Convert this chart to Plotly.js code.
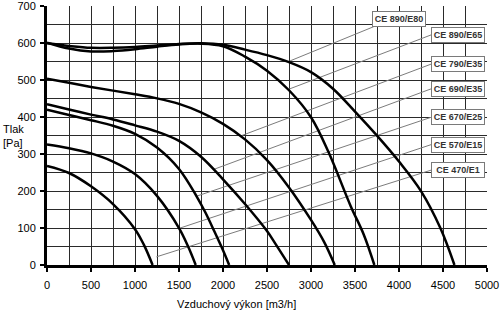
<!DOCTYPE html>
<html>
<head>
<meta charset="utf-8">
<script src="https://cdn.plot.ly/plotly-3.0.1.min.js"></script>
<style>
html,body{margin:0;padding:0;background:#fff;}
#chart{width:500px;height:336px;}
</style>
</head>
<body>
<div id="chart"></div>
<script>
// Fan curves: airflow [m3/h] vs pressure [Pa]
const seriesNames = ["CE 470/E1","CE 570/E15","CE 670/E25","CE 690/E35","CE 790/E35","CE 890/E65","CE 890/E80"];

const flowA = [0,250,500,750,1000,1100,1200];
const presA = [268,249,213,165,97,55,0];

const flowB = [0,250,500,750,1000,1250,1500,1600,1690];
const presB = [326,316,302,280,246,187,100,52,0];

const flowD = [0,250,500,750,1000,1250,1500,1700,1800,1900,2000,2070];
const presD = [420,406,392,377,355,318,260,186,142,92,40,0];

const flowC = [0,250,500,750,1000,1250,1500,1750,2000,2250,2500,2600,2750];
const presC = [435,421,407,394,378,361,336,293,232,165,92,56,0];

const flowE = [0,250,500,750,1000,1250,1500,1750,2000,2250,2500,2750,3000,3150,3270];
const presE = [504,493,482,472,462,451,436,413,382,340,284,210,122,62,0];

const flowF = [0,250,500,750,1000,1250,1500,1750,2000,2250,2500,2750,3000,3200,3450,3600,3720];
const presF = [602,586,578,579,584,591,597,599,592,564,526,473,400,305,160,82,0];

const flowG = [0,250,500,750,1000,1250,1500,1750,2000,2250,2500,2750,3000,3250,3500,3750,4000,4250,4470,4630];
const presG = [600,593,588,588,590,594,598,600,596,583,568,549,522,477,415,350,280,200,100,0];

// Label boxes (left edge / centre) and leader-line start points on the curves
const labelX = [4368,4368,4368,4368,4368,4368,3698];
const labelY = [257,326,400,477,544,623,665];
const leaderStartX = [1243,1500,1697,1886,2209,2750,2758];
const leaderStartY = [22,99,186,258,350,476,552];
const leaderEndX = [4368,4368,4368,4368,4368,4368,3712];
const leaderEndY = [257,326,400,477,544,623,645];

const xTicks = [0,500,1000,1500,2000,2500,3000,3500,4000,4500,5000];
const yTicks = [0,100,200,300,400,500,600,700];

const traces = [];
for (let i = 0; i < leaderStartX.length; i++) {
  traces.push({
    x: [leaderStartX[i], leaderEndX[i]],
    y: [leaderStartY[i], leaderEndY[i]],
    mode: 'lines', type: 'scatter',
    line: {color: '#7c7c7c', width: 1},
    hoverinfo: 'skip'
  });
}
const curves = [[flowA,presA],[flowB,presB],[flowD,presD],[flowC,presC],[flowE,presE],[flowF,presF],[flowG,presG]];
curves.forEach((c, i) => {
  traces.push({
    x: c[0], y: c[1], name: seriesNames[i],
    mode: 'lines', type: 'scatter',
    line: {color: '#000', width: 2.5, shape: 'spline', smoothing: 1},
    hoverinfo: 'skip'
  });
});

const annotations = seriesNames.map((n, i) => ({
  x: labelX[i], y: labelY[i], xref: 'x', yref: 'y',
  xanchor: 'left', yanchor: 'middle',
  text: '<b>' + n + '</b>', showarrow: false,
  font: {family: 'Liberation Sans, Arial, sans-serif', size: 9, color: '#333'},
  bgcolor: '#fff', bordercolor: '#7a7a7a', borderwidth: 1, borderpad: 1,
  width: 50, height: 12
}));
annotations.push({
  xref: 'paper', yref: 'paper', x: -0.104, y: 0.5, xanchor: 'left', yanchor: 'middle',
  text: 'Tlak<br>[Pa]', showarrow: false, align: 'left',
  font: {family: 'Liberation Sans, Arial, sans-serif', size: 11, color: '#000'}
});
annotations.push({
  xref: 'paper', yref: 'paper', x: (236 - 47) / 440, y: -0.151, xanchor: 'center', yanchor: 'middle',
  text: 'Vzduchový výkon [m3/h]', showarrow: false,
  font: {family: 'Liberation Sans, Arial, sans-serif', size: 11, color: '#000'}
});

const axisCommon = {
  showgrid: true, gridcolor: '#2a2a2a', gridwidth: 1,
  showline: true, linecolor: '#000', linewidth: 3,
  ticks: 'outside', ticklen: 4, tickwidth: 2, tickcolor: '#000',
  zeroline: false, fixedrange: true,
  tickfont: {family: 'Liberation Sans, Arial, sans-serif', size: 11, color: '#000'}
};

const layout = {
  width: 500, height: 336,
  margin: {l: 47, r: 13, t: 6, b: 71},
  paper_bgcolor: '#fff', plot_bgcolor: '#fff',
  showlegend: false, hovermode: false,
  xaxis: Object.assign({}, axisCommon, {
    range: [0, 5000], tickmode: 'array', tickvals: xTicks, ticktext: xTicks.map(String),
    ticklabelstandoff: 4,
    minor: {dtick: 250, tick0: 0, showgrid: true, gridcolor: '#2a2a2a', gridwidth: 1, ticks: ''}
  }),
  yaxis: Object.assign({}, axisCommon, {
    range: [0, 701], tickmode: 'array', tickvals: yTicks, ticktext: yTicks.map(String),
    ticklabelstandoff: 2,
    minor: {dtick: 50, tick0: 0, showgrid: true, gridcolor: '#2a2a2a', gridwidth: 1, ticks: ''}
  }),
  annotations: annotations
};

Plotly.newPlot('chart', traces, layout, {staticPlot: true, displayModeBar: false});
</script>
</body>
</html>
